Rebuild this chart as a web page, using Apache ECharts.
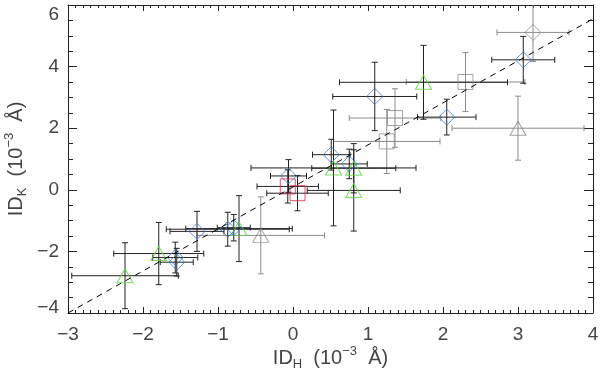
<!DOCTYPE html>
<html>
<head>
<meta charset="utf-8">
<script src="https://cdn.jsdelivr.net/npm/echarts@6/dist/echarts.min.js"></script>
<style>
  html, body { margin: 0; padding: 0; background: #fff; }
  #chart { width: 600px; height: 368px; }
</style>
</head>
<body>
<div id="chart"></div>
<script>
// each row: [ID_H, ID_K, err_H, err_K]  (10^-3 A)
const blueDiamonds = [
  [-1.57, -2.20, 0.30, 0.50],
  [-1.55, -2.35, 0.22, 0.45],
  [-1.28, -1.35, 0.36, 0.65],
  [-0.87, -1.28, 0.82, 0.55],
  [-0.79, -1.23, 0.22, 0.43],
  [-0.06, 0.45, 0.24, 0.53],
  [0.51, 1.14, 0.25, 0.50],
  [0.75, 0.84, 0.24, 0.48],
  [1.09, 3.03, 0.56, 1.11],
  [2.05, 2.36, 0.39, 0.58],
  [3.07, 4.22, 0.42, 0.76]
];
const greenTriangles = [
  [-2.24, -2.79, 0.71, 1.07],
  [-1.79, -2.07, 0.60, 1.01],
  [-0.72, -1.26, 0.71, 1.07],
  [0.54, 0.71, 1.10, 1.88],
  [0.81, 0.70, 0.56, 0.80],
  [0.81, -0.02, 0.62, 1.32],
  [1.74, 3.49, 1.12, 1.20]
];
const redSquares = [
  [-0.07, 0.11, 0.41, 0.54],
  [0.06, -0.11, 0.41, 0.57]
];
const graySquares = [
  [1.25, 1.57, 0.71, 1.04],
  [1.36, 2.33, 0.61, 0.95],
  [2.30, 3.50, 0.79, 0.96]
];
const grayTriangles = [
  [-0.43, -1.48, 0.85, 1.25],
  [3.00, 2.00, 0.88, 1.04]
];
const grayDiamonds = [
  [3.20, 5.11, 0.48, 0.94]
];
const fitLine = [[-3, -4.0], [4, 5.55]];

const FONT = 'Liberation Sans';
const LABEL = '#444';
const DARK = '#222';
const GRAY = '#8c8c8c';

let myChart = echarts.init(document.getElementById('chart'));

// error bars with little caps
function errBars(data, color) {
  return {
    type: 'custom',
    clip: true,
    silent: true,
    data: data,
    renderItem: function (params, api) {
      const x = api.value(0), y = api.value(1);
      const xe = api.value(2), ye = api.value(3);
      const l = api.coord([x - xe, y]), r = api.coord([x + xe, y]);
      const t = api.coord([x, y + ye]), b = api.coord([x, y - ye]);
      const c = 3;
      const st = {stroke: color, lineWidth: 1};
      const ln = (x1, y1, x2, y2) => ({type: 'line', shape: {x1, y1, x2, y2}, style: st});
      return {
        type: 'group',
        children: [
          ln(l[0], l[1], r[0], r[1]),
          ln(t[0], t[1], b[0], b[1]),
          ln(l[0], l[1] - c, l[0], l[1] + c),
          ln(r[0], r[1] - c, r[0], r[1] + c),
          ln(t[0] - c, t[1], t[0] + c, t[1]),
          ln(b[0] - c, b[1], b[0] + c, b[1])
        ]
      };
    }
  };
}

function marks(data, symbol, size, color) {
  return {
    type: 'scatter',
    symbol: symbol,
    symbolSize: size,
    data: data.map(d => [d[0], d[1]]),
    itemStyle: {color: 'rgba(0,0,0,0)', borderColor: color, borderWidth: 1},
    silent: true
  };
}

const minus = v => String(v).replace('-', '\u2212');

const nameRich = {
  a: {fontSize: 20, color: LABEL, fontFamily: FONT, lineHeight: 26},
  s: {fontSize: 13, color: LABEL, fontFamily: FONT, verticalAlign: 'bottom'},
  p: {fontSize: 13, color: LABEL, fontFamily: FONT, verticalAlign: 'top'}
};

const axisBase = {
  type: 'value',
  axisLine: {show: true, onZero: false, lineStyle: {color: DARK, width: 1}},
  splitLine: {show: false}
};

let option = {
  backgroundColor: '#fff',
  animation: false,
  grid: {left: 68, right: 7, top: 5, bottom: 55, containLabel: false, outerBoundsMode: 'none'},
  xAxis: [
    Object.assign({}, axisBase, {
      position: 'bottom', min: -3, max: 4, interval: 1,
      axisTick: {inside: true, length: 6, lineStyle: {color: DARK}},
      minorTick: {show: true, splitNumber: 10, length: 3, lineStyle: {color: DARK}},
      axisLabel: {margin: 12, fontSize: 19, color: LABEL, fontFamily: FONT, formatter: minus},
      name: '{a|ID}{s|H}{a|  (10}{p|\u22123}{a|  \u00c5)}',
      nameLocation: 'middle', nameGap: 32, nameMoveOverlap: false,
      nameTextStyle: {rich: nameRich}
    }),
    Object.assign({}, axisBase, {
      position: 'top', min: -3, max: 4, interval: 1,
      axisTick: {inside: true, length: 6, lineStyle: {color: DARK}},
      minorTick: {show: true, splitNumber: 10, length: 3, lineStyle: {color: DARK}},
      axisLabel: {show: false}
    })
  ],
  yAxis: [
    Object.assign({}, axisBase, {
      position: 'left', min: -4, max: 6, interval: 2,
      axisTick: {inside: true, length: 9, lineStyle: {color: DARK}},
      minorTick: {show: true, splitNumber: 4, length: 5, lineStyle: {color: DARK}},
      axisLabel: {margin: 9, fontSize: 19, color: LABEL, fontFamily: FONT,
        verticalAlignMaxLabel: 'top',
        formatter: v => v === -4 ? '{m|' + minus(v) + '}' : minus(v),
        rich: {m: {fontSize: 19, color: LABEL, fontFamily: FONT, padding: [0, 0, 10, 0]}}},
      name: '{a|ID}{s|K}{a|  (10}{p|\u22123}{a|  \u00c5)}',
      nameLocation: 'middle', nameRotate: 90, nameGap: 39, nameMoveOverlap: false,
      nameTextStyle: {rich: nameRich}
    }),
    Object.assign({}, axisBase, {
      position: 'right', min: -4, max: 6, interval: 2,
      axisTick: {inside: true, length: 9, lineStyle: {color: DARK}},
      minorTick: {show: true, splitNumber: 4, length: 5, lineStyle: {color: DARK}},
      axisLabel: {show: false}
    })
  ],
  series: [
    {
      type: 'line',
      data: fitLine,
      showSymbol: false,
      silent: true,
      lineStyle: {color: '#000', width: 1, type: [6, 5]}
    },
    errBars(grayTriangles, GRAY),
    errBars(graySquares, GRAY),
    errBars(grayDiamonds, GRAY),
    errBars(greenTriangles, DARK),
    errBars(redSquares, DARK),
    errBars(blueDiamonds, DARK),
    marks(grayTriangles, 'triangle', [16, 14], GRAY),
    marks(graySquares, 'rect', 15, GRAY),
    marks(grayDiamonds, 'diamond', 16, GRAY),
    marks(greenTriangles, 'triangle', [16, 14], '#5cd23a'),
    marks(redSquares, 'rect', 15, '#d0284a'),
    marks(blueDiamonds, 'diamond', 16, '#3a7bcf')
  ]
};
option && myChart.setOption(option);
</script>
</body>
</html>
